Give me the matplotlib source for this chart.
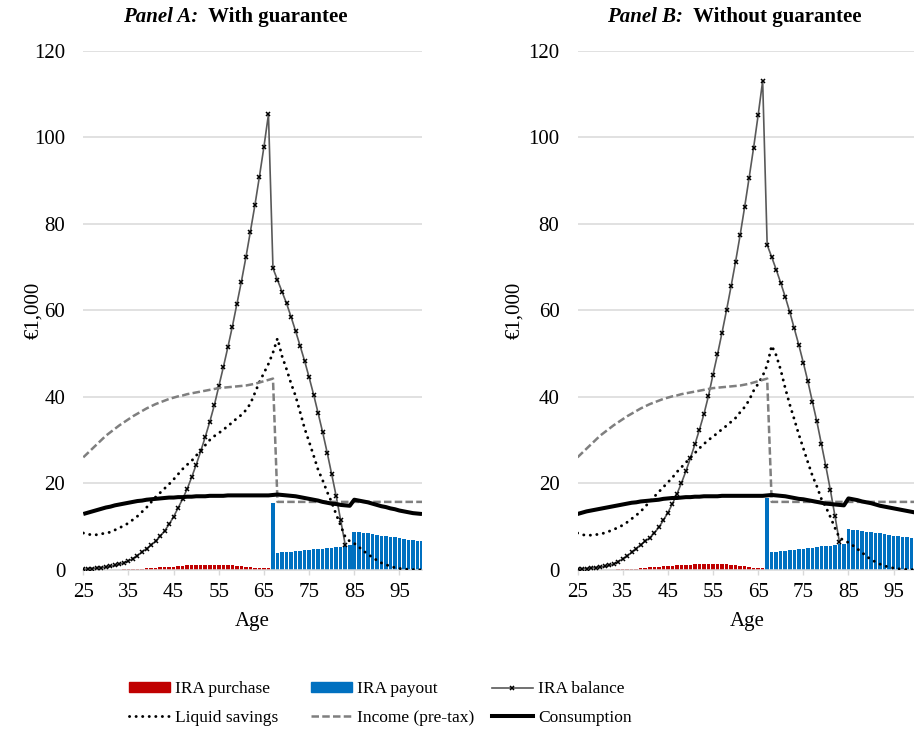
import matplotlib
matplotlib.use('Agg')
from matplotlib import pyplot as plt
from matplotlib.lines import Line2D
from matplotlib.patches import Patch

plt.rcParams['font.family'] = ['Liberation Serif', 'DejaVu Serif']

ages = list(range(25, 101))

# IRA purchase (ages 25-66) and IRA payout (ages 67-100)
purchase_a = [0, 0, 0, 0, 0, 0, 0, 0, 0.05, 0.1,
              0.15, 0.2, 0.25, 0.3, 0.35, 0.4, 0.5, 0.6, 0.65, 0.7,
              0.75, 0.8, 0.9, 1.0, 1.1, 1.15, 1.2, 1.2, 1.2, 1.2,
              1.2, 1.15, 1.1, 1.0, 0.9, 0.8, 0.7, 0.6, 0.5, 0.45,
              0.4, 0.35]
purchase_b = [0, 0, 0, 0, 0, 0, 0, 0, 0.05, 0.1,
              0.15, 0.2, 0.25, 0.3, 0.35, 0.45, 0.55, 0.65, 0.75, 0.8,
              0.9, 0.95, 1.0, 1.1, 1.15, 1.2, 1.25, 1.3, 1.35, 1.4,
              1.4, 1.4, 1.35, 1.3, 1.2, 1.1, 0.95, 0.8, 0.65, 0.5,
              0.4, 0.35]
payout_a = [15.5,
            3.9, 4.0, 4.1, 4.2, 4.3, 4.4, 4.5, 4.6, 4.7, 4.8, 4.9, 5.0, 5.1, 5.2, 5.3, 5.5, 5.7,
            8.8, 8.7, 8.5, 8.4, 8.2, 8.1, 7.9, 7.8, 7.6, 7.5, 7.3, 7.2, 7.0, 6.9, 6.7, 6.6]
payout_b = [16.7,
            4.1, 4.2, 4.3, 4.4, 4.5, 4.6, 4.8, 4.9, 5.0, 5.1, 5.2, 5.4, 5.5, 5.6, 5.7, 5.9, 6.0,
            9.4, 9.3, 9.1, 9.0, 8.8, 8.7, 8.5, 8.4, 8.2, 8.1, 7.9, 7.8, 7.6, 7.5, 7.3, 7.2]

# IRA balance (ages 25-83)
balance_a = [0.1, 0.2, 0.3, 0.4, 0.5, 0.6, 0.8, 1.0, 1.3, 1.6,
             2.0, 2.6, 3.3, 4.1, 4.9, 5.7, 6.6, 7.7, 9.0, 10.5,
             12.3, 14.3, 16.4, 18.7, 21.4, 24.3, 27.4, 30.7, 34.2, 38.0,
             42.4, 46.8, 51.4, 56.2, 61.4, 66.6, 72.2, 78.2, 84.3, 90.9,
             97.8, 105.3, 69.7, 67.0, 64.3, 61.6, 58.5, 55.2, 51.8, 48.3,
             44.5, 40.5, 36.2, 31.8, 27.1, 22.1, 17.0, 11.4, 5.8]
balance_b = [0.1, 0.2, 0.3, 0.4, 0.5, 0.6, 0.8, 1.0, 1.3, 1.9,
             2.5, 3.2, 4.0, 4.9, 5.8, 6.6, 7.4, 8.5, 9.8, 11.4,
             13.2, 15.2, 17.5, 20.0, 22.8, 25.8, 29.0, 32.4, 36.0, 40.2,
             45.1, 49.8, 54.8, 60.0, 65.5, 71.2, 77.3, 83.8, 90.6, 97.6,
             105.1, 113.0, 75.1, 72.3, 69.4, 66.3, 63.1, 59.6, 55.8, 52.0,
             47.9, 43.6, 38.9, 34.3, 29.1, 23.9, 18.4, 12.5, 6.4]

savings_a = [8.5, 8.2, 8.1, 8.1, 8.3, 8.5, 8.7, 9.2, 9.7, 10.2,
             10.8, 11.6, 12.4, 13.4, 14.4, 15.6, 16.8, 17.8, 18.8, 19.8,
             20.9, 22.1, 23.3, 24.3, 25.2, 26.4, 27.6, 28.8, 30.0, 30.9,
             31.6, 32.4, 33.2, 34.1, 35.0, 35.8, 36.9, 38.4, 40.9, 43.4,
             45.5, 47.6, 50.2, 53.5, 49.4, 46.4, 43.1, 40.2, 36.5, 32.7,
             29.6, 26.4, 23.1, 20.7, 18.0, 15.6, 12.8, 10.2, 7.6, 6.6,
             6.1, 5.3, 4.4, 3.6, 2.9, 2.2, 1.6, 1.2, 0.8, 0.5,
             0.3, 0.2, 0.1, 0.05, 0.0, 0.0]
savings_b = [8.5, 8.1, 8.0, 8.0, 8.1, 8.3, 8.5, 8.9, 9.3, 9.8,
             10.3, 11.0, 11.8, 12.6, 13.5, 14.6, 15.8, 16.9, 18.0, 19.1,
             20.2, 21.3, 22.6, 23.7, 24.8, 25.9, 27.0, 28.1, 29.1, 30.0,
             30.8, 31.6, 32.5, 33.3, 34.2, 35.1, 36.4, 37.6, 39.2, 41.4,
             43.0, 44.8, 47.3, 51.8, 49.6, 46.2, 42.0, 38.2, 34.8, 31.3,
             28.1, 24.9, 21.8, 19.3, 16.4, 14.5, 12.2, 9.7, 7.4, 6.8,
             6.3, 5.6, 4.8, 4.0, 3.1, 2.4, 1.8, 1.3, 0.9, 0.6,
             0.4, 0.25, 0.15, 0.08, 0.03, 0.0]

income = [26.0, 27.0, 28.0, 29.0, 30.0, 31.0, 31.8, 32.6, 33.4, 34.1,
          34.8, 35.5, 36.1, 36.7, 37.3, 37.8, 38.3, 38.7, 39.1, 39.5,
          39.8, 40.1, 40.3, 40.6, 40.8, 41.0, 41.2, 41.4, 41.6, 41.8,
          42.0, 42.1, 42.2, 42.3, 42.4, 42.5, 42.6, 42.8, 43.0, 43.3,
          43.6, 43.9, 44.2, 15.7, 15.7, 15.7, 15.7, 15.7, 15.7, 15.7,
          15.7, 15.7, 15.7, 15.7, 15.7, 15.7, 15.7, 15.7, 15.7, 15.7,
          15.7, 15.7, 15.7, 15.7, 15.7, 15.7, 15.7, 15.7, 15.7, 15.7,
          15.7, 15.7, 15.7, 15.7, 15.7, 15.7]

consumption_a = [12.9, 13.2, 13.5, 13.8, 14.1, 14.4, 14.6, 14.9, 15.1, 15.3,
                 15.5, 15.7, 15.9, 16.0, 16.2, 16.3, 16.4, 16.5, 16.6, 16.7,
                 16.7, 16.8, 16.8, 16.9, 16.9, 17.0, 17.0, 17.0, 17.1, 17.1,
                 17.1, 17.1, 17.2, 17.2, 17.2, 17.2, 17.2, 17.2, 17.2, 17.2,
                 17.2, 17.2, 17.3, 17.4, 17.3, 17.2, 17.1, 17.0, 16.8, 16.6,
                 16.4, 16.2, 16.0, 15.7, 15.5, 15.3, 15.2, 15.0, 14.9, 14.8,
                 16.2, 16.0, 15.8, 15.6, 15.3, 15.0, 14.7, 14.5, 14.2, 14.0,
                 13.7, 13.5, 13.3, 13.1, 13.0, 12.9]
consumption_b = [12.9, 13.2, 13.5, 13.7, 13.9, 14.1, 14.3, 14.5, 14.7, 14.9,
                 15.1, 15.3, 15.5, 15.6, 15.8, 15.9, 16.0, 16.1, 16.2, 16.4,
                 16.5, 16.6, 16.6, 16.7, 16.8, 16.8, 16.9, 16.9, 17.0, 17.0,
                 17.0, 17.0, 17.1, 17.1, 17.1, 17.1, 17.1, 17.1, 17.1, 17.1,
                 17.1, 17.1, 17.2, 17.3, 17.2, 17.1, 17.0, 16.8, 16.6, 16.4,
                 16.3, 16.1, 15.9, 15.7, 15.5, 15.3, 15.2, 15.1, 15.0, 14.9,
                 16.5, 16.3, 16.1, 15.8, 15.6, 15.4, 15.1, 14.8, 14.6, 14.4,
                 14.2, 14.0, 13.8, 13.6, 13.4, 13.2]

xticks = [25, 35, 45, 55, 65, 75, 85, 95]
yticks = [0, 20, 40, 60, 80, 100, 120]

RED = '#C00000'
BLUE = '#0070C0'
GRID = '#D9D9D9'
DOTS = (0, (0.05, 2.2))
DASH = (0, (3.0, 1.3))

W, H = 914, 733
fig = plt.figure(figsize=(W / 100, H / 100), dpi=100)


def px_axes(left, right, top, bottom):
    return fig.add_axes([left / W, 1 - bottom / H, (right - left) / W, (bottom - top) / H])


def draw_panel(ax, purchase, payout, balance, savings, consumption, ylab_x):
    n_p = len(purchase)
    ax.bar(ages[:n_p], purchase, width=0.78, color=RED, zorder=2)
    ax.bar(ages[n_p:], payout, width=0.78, color=BLUE, zorder=2)
    ax.plot(ages[:len(balance)], balance, color='#595959', lw=1.2, marker='x',
            ms=3.4, mec='black', mew=1.1, zorder=3)
    ax.plot(ages, savings, color='black', lw=2.1, ls=DOTS,
            dash_capstyle='round', zorder=4)
    ax.plot(ages, income, color='#7F7F7F', lw=1.8, ls=DASH, zorder=5)
    ax.plot(ages, consumption, color='black', lw=2.9, solid_capstyle='butt', zorder=6)

    ax.set_xlim(25, 100)
    ax.set_ylim(0, 120)
    ax.set_xticks(xticks)
    ax.set_yticks(yticks)
    ax.grid(axis='y', color=GRID, lw=1.1, zorder=0)
    ax.set_axisbelow(True)
    for s in ['left', 'right', 'top']:
        ax.spines[s].set_visible(False)
    ax.spines['bottom'].set_color(GRID)
    ax.spines['bottom'].set_linewidth(1.1)
    ax.tick_params(axis='x', length=3.6, width=1.0, color=GRID, pad=6, labelsize=15)
    ax.tick_params(axis='y', length=0, pad=13, labelsize=15)
    ax.set_xlabel('Age', fontsize=15, labelpad=7)
    ax.set_ylabel('€1,000', fontsize=15)
    ax.yaxis.set_label_coords(ylab_x, 0.5)


ax_a = px_axes(83.3, 422.0, 50.7, 569.8)
ax_b = px_axes(577.5, 916.2, 50.7, 569.8)
draw_panel(ax_a, purchase_a, payout_a, balance_a, savings_a, consumption_a, -0.117)
draw_panel(ax_b, purchase_b, payout_b, balance_b, savings_b, consumption_b, -0.158)

# panel titles: bold italic prefix followed by bold text
for x0, head, tail in [(123, 'Panel A:', '  With guarantee'),
                       (607, 'Panel B:', '  Without guarantee')]:
    t1 = fig.text(x0 / W, 1 - 22 / H, head, fontsize=15, fontweight='bold',
                  fontstyle='italic', va='baseline', ha='left')
    ax_a.annotate(tail, xy=(1, 0), xycoords=t1, fontsize=15,
                  fontweight='bold', va='bottom', ha='left',
                  annotation_clip=False)

# legend in three columns of two rows
h_purchase = Patch(color=RED)
h_payout = Patch(color=BLUE)
h_balance = Line2D([], [], color='#595959', lw=1.2, marker='x', ms=3.4, mec='black', mew=1.1)
h_savings = Line2D([], [], color='black', lw=2.1, ls=DOTS, dash_capstyle='round')
h_income = Line2D([], [], color='#7F7F7F', lw=1.8, ls=DASH)
h_cons = Line2D([], [], color='black', lw=2.9)

columns = [(129, [h_purchase, h_savings], ['IRA purchase', 'Liquid savings']),
           (311, [h_payout, h_income], ['IRA payout', 'Income (pre-tax)']),
           (492, [h_balance, h_cons], ['IRA balance', 'Consumption'])]
for x0, hs, labs in columns:
    fig.legend(hs, labs, loc='center left', bbox_to_anchor=(x0 / W, 1 - 703.5 / H),
               frameon=False, fontsize=12.5, handlelength=2.35, handletextpad=0.3,
               labelspacing=0.72, borderpad=0, borderaxespad=0, numpoints=1,
               handleheight=0.55)

fig.savefig('out.png', dpi=100)
